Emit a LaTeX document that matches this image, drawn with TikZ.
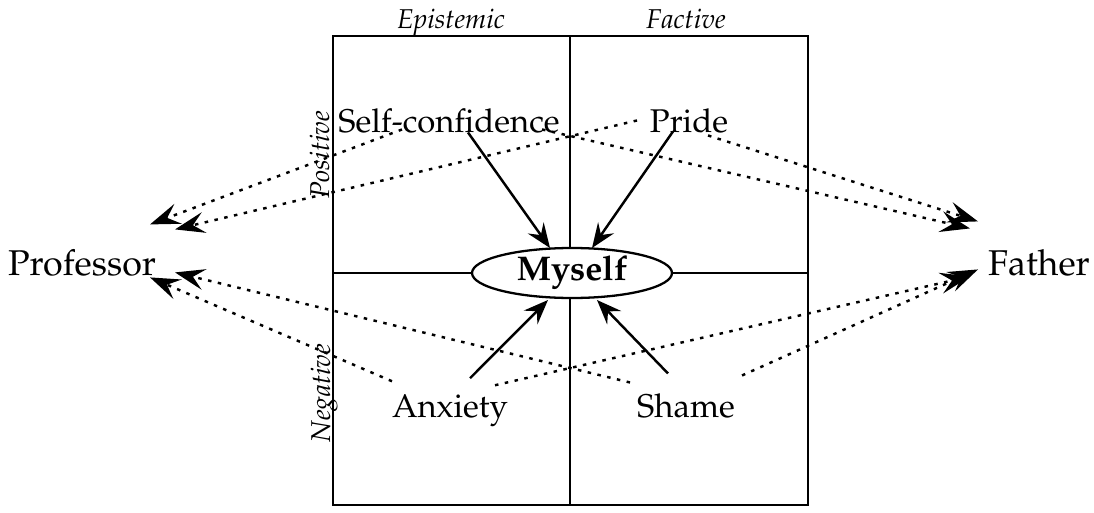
\documentclass[tikz,border=0pt]{standalone}
\usepackage[T1]{fontenc}
\usepackage{mathpazo}
\usetikzlibrary{arrows.meta,shapes.geometric,calc}

\begin{document}
\begin{tikzpicture}[x=0.02cm,y=-0.02cm,
  feeling/.style={font=\fontsize{18.7}{20}\selectfont, anchor=base, inner sep=0pt},
  person/.style={font=\fontsize{20.4}{22}\selectfont, anchor=base, inner sep=0pt},
  axislabel/.style={font=\fontsize{15.5}{17}\selectfont\itshape, anchor=base, inner sep=0pt},
  grid/.style={line width=1.3pt},
  pull/.style={line width=1.4pt, -{Stealth[length=14pt,width=11pt,inset=5pt]}},
  link/.style={line width=1.4pt, dash pattern=on 2pt off 3.7pt,
    -{Stealth[length=17pt,width=12pt,inset=6.5pt]}}]
  \useasboundingbox (0,0) rectangle (1094,513);

  % Draw the quadrants first

  \draw[grid] (333,36) rectangle (808,505);
  \draw[grid] (570,36) -- (570,505);
  \draw[grid] (333,273) -- (808,273);

  \node[axislabel] (epis) at (451,29) {Epistemic};
  \node[axislabel] (fact) at (686,29) {Factive};
  \node[axislabel, rotate=90] (pos) at (329,155) {Positive};
  \node[axislabel, rotate=90] (neg) at (330,393) {Negative};

  % Then the nodes

  \node[draw, ellipse, grid, fill=white, minimum width=4cm, minimum height=1cm,
    inner sep=0pt, font=\fontsize{19.5}{21}\selectfont\bfseries] (myself) at (572,273) {Myself};

  \node[feeling] (selfconf) at (449,133) {Self-confidence};
  \node[feeling] (pride)    at (689,133) {Pride};
  \node[feeling] (anxiety)  at (450,417) {Anxiety};
  \node[feeling] (shame)    at (686,417) {Shame};
  \node[person]  (prof)     at (82,275)  {Professor};
  \node[person]  (father)   at (1039,275) {Father};

  % Tips of the dotted links
  \coordinate (prof-a) at ($(prof)+(68,-38)$);
  \coordinate (prof-b) at ($(prof)+(93,-33)$);
  \coordinate (prof-c) at ($(prof)+(68,15)$);
  \coordinate (prof-d) at ($(prof)+(93,10)$);
  \coordinate (father-a) at ($(father)+(-69,-34)$);
  \coordinate (father-b) at ($(father)+(-61,-41)$);
  \coordinate (father-c) at ($(father)+(-69,14)$);
  \coordinate (father-d) at ($(father)+(-61,7)$);

  % Dotted links
  \draw[link] ($(selfconf)+(-47,8)$) -- (prof-a);
  \draw[link] ($(pride)+(-52,-1)$) -- (prof-b);
  \draw[link] ($(anxiety)+(-58,-29)$) -- (prof-c);
  \draw[link] ($(shame)+(-56,-23)$) -- (prof-d);
  \draw[link] ($(selfconf)+(93,8)$) -- (father-a);
  \draw[link] ($(pride)+(19,14)$) -- (father-b);
  \draw[link] ($(anxiety)+(45,-25)$) -- (father-c);
  \draw[link] ($(shame)+(56,-30)$) -- (father-d);

  % Solid arrows into Myself
  \draw[pull] ($(selfconf)+(19,11)$) -- ($(myself)+(-22,-25)$);
  \draw[pull] ($(pride)+(-16,10)$) -- ($(myself)+(20,-25)$);
  \draw[pull] ($(anxiety)+(20,-32)$) -- ($(myself)+(-24,27)$);
  \draw[pull] ($(shame)+(-18,-32)$) -- ($(myself)+(25,27)$);
\end{tikzpicture}
\end{document}
